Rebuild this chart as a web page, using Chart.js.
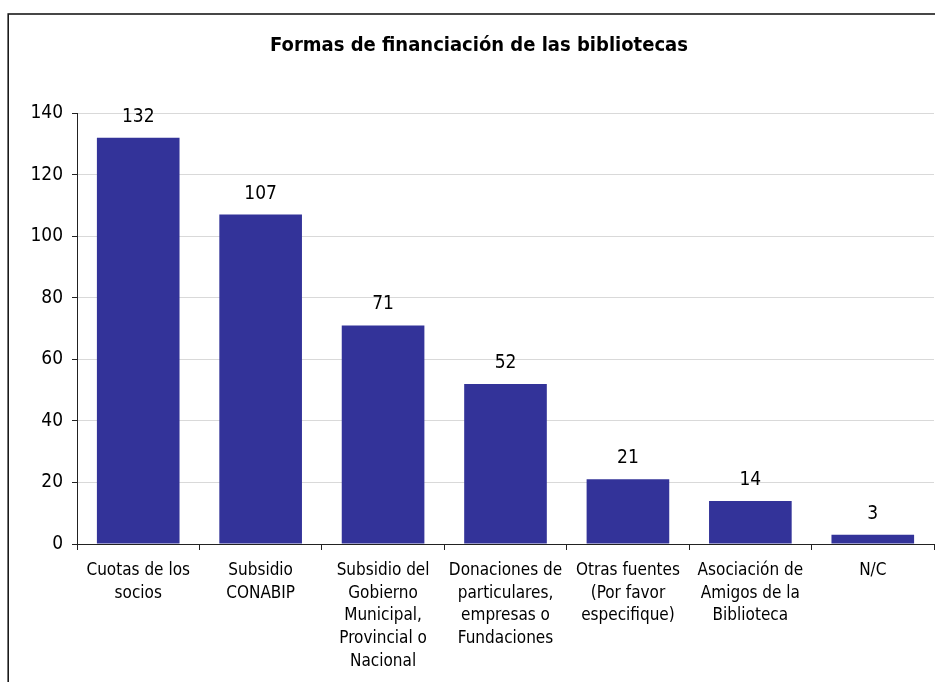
<!DOCTYPE html>
<html>
<head>
<meta charset="utf-8">
<script src="https://cdn.jsdelivr.net/npm/chart.js@4.4.1/dist/chart.umd.min.js"></script>
<style>
  html, body { margin: 0; padding: 0; background: #fff; }
  #wrap { position: relative; width: 935px; height: 682px; overflow: hidden; }
  canvas { display: block; }
</style>
</head>
<body>
<div id="wrap"><canvas id="c" width="935" height="682"></canvas></div>
<script>
const chartTitle = 'Formas de financiación de las bibliotecas';
const categories = [
  ['Cuotas de los', 'socios'],
  ['Subsidio', 'CONABIP'],
  ['Subsidio del', 'Gobierno', 'Municipal,', 'Provincial o', 'Nacional'],
  ['Donaciones de', 'particulares,', 'empresas o', 'Fundaciones'],
  ['Otras fuentes', '(Por favor', 'especifique)'],
  ['Asociación de', 'Amigos de la', 'Biblioteca'],
  ['N/C']
];
const values = [132, 107, 71, 52, 21, 14, 3];
const yTicks = [0, 20, 40, 60, 80, 100, 120, 140];

const FONT = "'DejaVu Sans Condensed', 'DejaVu Sans', sans-serif";

const framePlugin = {
  id: 'frame',
  beforeDraw(chart) {
    const ctx = chart.ctx;
    ctx.save();
    ctx.fillStyle = '#fff';
    ctx.fillRect(0, 0, chart.width, chart.height);
    ctx.strokeStyle = '#1a1a1a';
    ctx.lineWidth = 1.6;
    ctx.strokeRect(8.2, 14, 2000, 2000);
    ctx.restore();
  },
  afterDraw(chart) {
    const ctx = chart.ctx;
    ctx.save();
    ctx.fillStyle = '#000';
    ctx.font = "bold 20px " + FONT;
    ctx.textAlign = 'center';
    ctx.textBaseline = 'middle';
    ctx.fillText(chartTitle, 479, 46);
    ctx.restore();
  }
};

const valueLabels = {
  id: 'valueLabels',
  afterDatasetsDraw(chart) {
    const ctx = chart.ctx;
    const meta = chart.getDatasetMeta(0);
    ctx.save();
    ctx.fillStyle = '#000';
    ctx.font = "19px " + FONT;
    ctx.textAlign = 'center';
    ctx.textBaseline = 'middle';
    meta.data.forEach((bar, i) => {
      ctx.fillText(String(values[i]), bar.x, bar.y - 21);
    });
    ctx.restore();
  }
};

new Chart(document.getElementById('c'), {
  type: 'bar',
  data: {
    labels: categories,
    datasets: [{
      data: values,
      backgroundColor: '#333399',
      borderWidth: 0,
      barPercentage: 0.675,
      categoryPercentage: 1
    }]
  },
  options: {
    responsive: false,
    devicePixelRatio: 1,
    animation: false,
    layout: { padding: { left: 0, right: 1, top: 113, bottom: 0 } },
    plugins: {
      legend: { display: false },
      title: { display: false },
      tooltip: { enabled: false }
    },
    scales: {
      x: {
        offset: true,
        grid: {
          offset: true,
          drawOnChartArea: false,
          drawTicks: true,
          tickLength: 6,
          tickColor: '#222',
          lineWidth: 1
        },
        border: { display: true, color: '#222', width: 1 },
        ticks: {
          color: '#000',
          font: { family: FONT, size: 17, lineHeight: 1.33 },
          padding: 9.5,
          maxRotation: 0,
          autoSkip: false
        },
        afterFit(scale) { scale.height = 682 - 544; }
      },
      y: {
        min: 0,
        max: 140,
        afterBuildTicks(scale) { scale.ticks = yTicks.map(v => ({ value: v })); },
        grid: {
          color: '#d9d9d9',
          lineWidth: 1,
          tickLength: 5,
          tickColor: '#222'
        },
        border: { display: true, color: '#222', width: 1 },
        ticks: {
          color: '#000',
          font: { family: FONT, size: 19 },
          padding: 9
        },
        afterFit(scale) { scale.width = 77; }
      }
    }
  },
  plugins: [framePlugin, valueLabels]
});
</script>
</body>
</html>
